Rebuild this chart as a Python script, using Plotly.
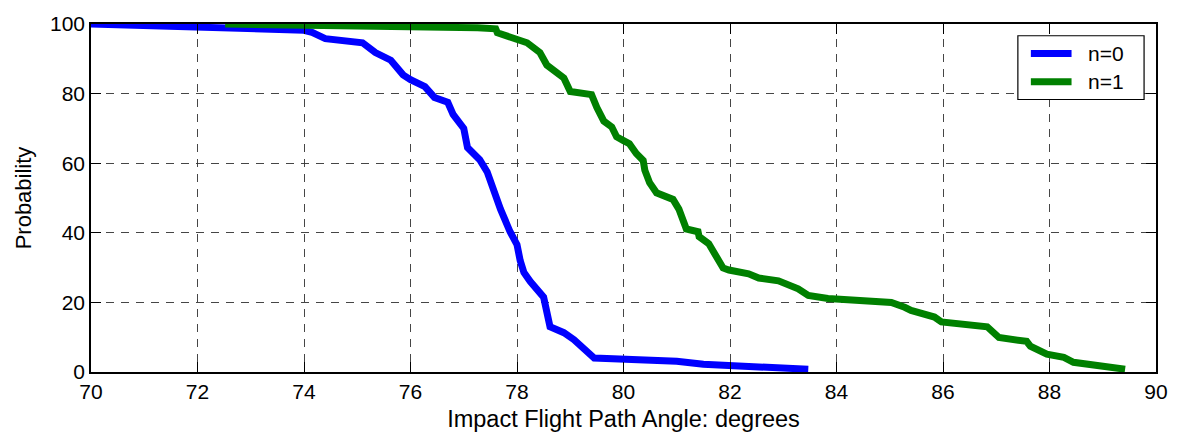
import plotly.graph_objects as go

# Empirical exceedance curves of impact flight path angle
angle_n0 = [70.0, 72.0, 74.0, 74.15, 74.4, 75.1, 75.34, 75.63, 75.86, 76.0, 76.27, 76.45,
            76.7, 76.8, 77.0, 77.07, 77.3, 77.44, 77.57, 77.69, 77.87, 78.0, 78.06, 78.13,
            78.25, 78.5, 78.62, 78.88, 79.07, 79.37, 79.45, 81.0, 81.5, 83.47]
prob_n0 = [100.0, 98.9, 98.2, 97.6, 95.8, 94.6, 91.8, 89.6, 85.4, 84.0, 82.0, 78.9,
           77.5, 74.0, 70.0, 64.5, 61.0, 57.5, 51.5, 46.8, 40.3, 36.6, 32.0, 28.6,
           26.0, 21.5, 13.0, 11.3, 9.3, 5.0, 4.0, 3.1, 2.2, 0.8]

angle_n1 = [72.52, 76.0, 77.26, 77.6, 77.63, 78.19, 78.43, 78.56, 78.88, 79.0, 79.4, 79.5,
            79.63, 79.78, 79.87, 80.0, 80.11, 80.24, 80.37, 80.4, 80.49, 80.62, 80.93,
            81.04, 81.12, 81.18, 81.4, 81.42, 81.6, 81.87, 81.98, 82.35, 82.54, 82.91,
            83.28, 83.47, 83.84, 85.03, 85.28, 85.4, 85.84, 85.97, 86.83, 87.05, 87.57,
            87.64, 87.95, 88.27, 88.45, 89.07, 89.42]
prob_n1 = [100.0, 99.4, 98.9, 98.6, 97.5, 94.6, 91.8, 88.2, 84.5, 80.6, 79.7, 76.0,
           72.1, 70.4, 67.6, 66.5, 65.6, 62.8, 60.8, 58.0, 54.4, 51.5, 49.6,
           46.8, 44.0, 41.1, 40.3, 38.9, 36.9, 29.9, 29.3, 28.2, 27.0, 26.2,
           23.9, 22.0, 21.1, 20.0, 18.6, 17.7, 15.8, 14.4, 13.0, 9.9, 8.8,
           7.4, 5.1, 4.2, 2.8, 1.7, 0.8]

series_names = ["n=0", "n=1"]
series_colors = ["rgb(0,0,255)", "rgb(0,128,0)"]

x_ticks = list(range(70, 91, 2))
y_ticks = list(range(0, 101, 20))

font_family = "Liberation Sans, Arial, sans-serif"

fig = go.Figure()
for xs, ys, name, color in zip([angle_n0, angle_n1], [prob_n0, prob_n1],
                               series_names, series_colors):
    fig.add_trace(go.Scatter(x=xs, y=ys, mode="lines", name=name,
                             line=dict(color=color, width=7), showlegend=False))

axis_common = dict(
    showline=True, linecolor="black", linewidth=1.5, mirror="ticks",
    ticks="inside", ticklen=10, tickcolor="black",
    showgrid=True, gridcolor="rgba(50,50,50,0.9)", gridwidth=1, griddash="8px,7px",
    zeroline=False, tickfont=dict(size=21, color="black", family=font_family),
)

fig.update_xaxes(range=[70, 90], tickvals=x_ticks,
                 title=dict(text="Impact Flight Path Angle: degrees",
                            font=dict(size=23.5, color="black", family=font_family),
                            standoff=9),
                 **axis_common)
fig.update_yaxes(range=[0, 100], tickvals=y_ticks,
                 title=dict(text="Probability",
                            font=dict(size=22, color="black", family=font_family),
                            standoff=12),
                 **axis_common)

# Boxed legend in the upper-right corner (paper coordinates of the plot area)
box_x0, box_x1 = 0.8703, 0.9888
box_y0, box_y1 = 0.7831, 0.9662
sample_x0, sample_x1 = 0.8825, 0.9207
label_x = 0.9347
row_y = [0.9155, 0.8338]

fig.add_shape(type="rect", xref="paper", yref="paper",
              x0=box_x0, x1=box_x1, y0=box_y0, y1=box_y1,
              line=dict(color="black", width=1.2), fillcolor="white", layer="above")
for name, color, yy in zip(series_names, series_colors, row_y):
    fig.add_shape(type="line", xref="paper", yref="paper",
                  x0=sample_x0, x1=sample_x1, y0=yy, y1=yy,
                  line=dict(color=color, width=7), layer="above")
    fig.add_annotation(xref="paper", yref="paper", x=label_x, y=yy, text=name,
                       showarrow=False, xanchor="left", yanchor="middle",
                       font=dict(size=21, color="black", family=font_family))

fig.update_layout(
    width=1180, height=440,
    margin=dict(l=91, r=17, t=18, b=67),
    plot_bgcolor="white", paper_bgcolor="white",
    font=dict(family=font_family, color="black"),
    showlegend=False,
)

fig.write_html("out.html")
